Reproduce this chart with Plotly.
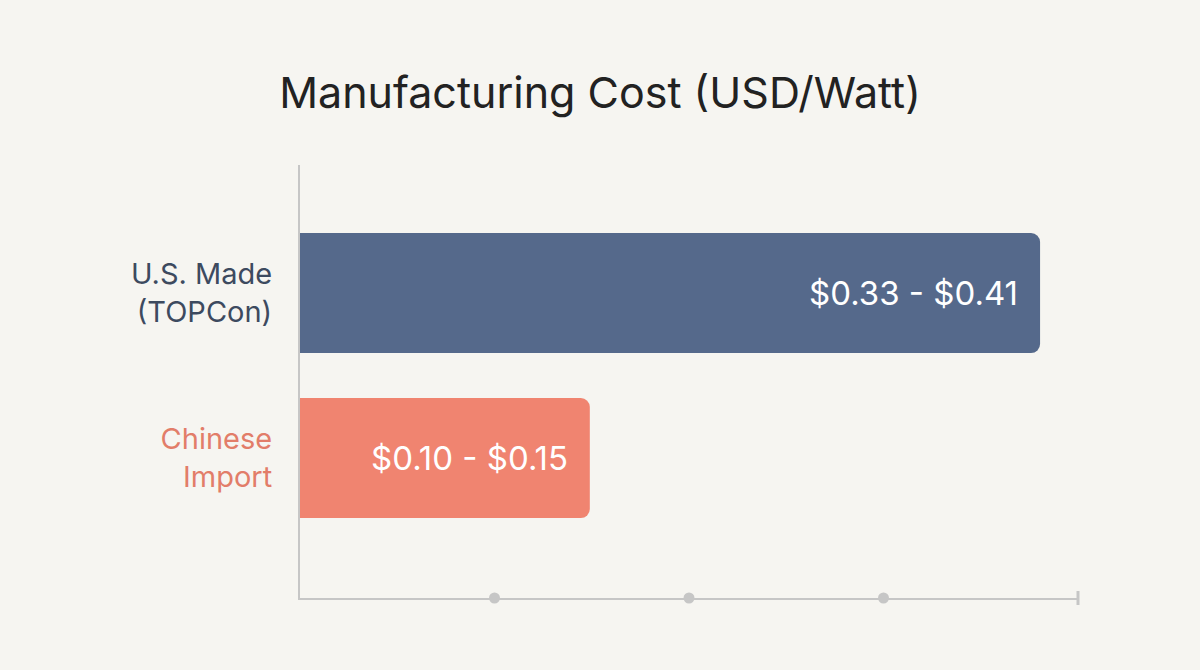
import plotly.graph_objects as go

# values
categories = ["U.S. Made<br>(TOPCon)", "Chinese<br>Import"]
bar_values = [0.3805, 0.149]         # bar lengths, USD/Watt
range_labels = ["$0.33 - $0.41", "$0.10 - $0.15"]
bar_colors = ["#55698b", "#f08470"]
label_colors = ["#3d4a5f", "#e27d69"]
tick_dots = [0.1, 0.2, 0.3]
x_max = 0.4

y_pos = [1, 0]
y_low, y_high = -0.848, 1.776
FONT = "Inter"

fig = go.Figure()

fig.add_trace(go.Bar(
    x=bar_values,
    y=y_pos,
    orientation="h",
    width=0.727,
    marker=dict(color=bar_colors, line=dict(width=0)),
    hoverinfo="skip",
))

# value range labels, right-aligned inside the bar ends
for val, yy, lab in zip(bar_values, y_pos, range_labels):
    fig.add_annotation(
        x=val, y=yy, text=lab, showarrow=False,
        xanchor="right", yanchor="middle", xshift=-20,
        font=dict(family=FONT, size=33, color="white"),
    )

# dot ticks along the bottom axis, and the end cap
fig.add_trace(go.Scatter(
    x=tick_dots,
    y=[y_low] * len(tick_dots),
    mode="markers",
    marker=dict(size=11, color="#c6c6c6"),
    cliponaxis=False,
    hoverinfo="skip",
))
fig.add_trace(go.Scatter(
    x=[x_max],
    y=[y_low],
    mode="markers",
    marker=dict(symbol="line-ns", size=10, line=dict(width=3, color="#c6c6c6")),
    cliponaxis=False,
    hoverinfo="skip",
))

fig.update_layout(
    width=1200,
    height=670,
    paper_bgcolor="#f6f5f1",
    plot_bgcolor="#f6f5f1",
    showlegend=False,
    barcornerradius=9,
    margin=dict(l=300, r=122, t=165, b=72),
    title=dict(
        text="Manufacturing Cost (USD/Watt)",
        x=0.5, xanchor="center",
        y=1 - 93 / 670, yanchor="middle", yref="container",
        font=dict(family=FONT, size=43, color="#222222"),
    ),
    xaxis=dict(
        range=[0, x_max],
        showgrid=False, zeroline=False,
        showline=True, linecolor="#c6c6c6", linewidth=2,
        showticklabels=False, ticks="",
        fixedrange=True,
    ),
    yaxis=dict(
        range=[y_low, y_high],
        showgrid=False, zeroline=False,
        showline=True, linecolor="#c6c6c6", linewidth=2,
        tickvals=y_pos,
        ticktext=[f'<span style="color:{c}">{t}</span>'
                  for t, c in zip(categories, label_colors)],
        tickfont=dict(family=FONT, size=29),
        ticklabelstandoff=20,
        ticks="",
        fixedrange=True,
    ),
)

fig.write_html(
    "out.html",
    config={"displayModeBar": False},
    post_script="document.body.style.margin='0';"
                "document.body.style.background='#f6f5f1';",
)
